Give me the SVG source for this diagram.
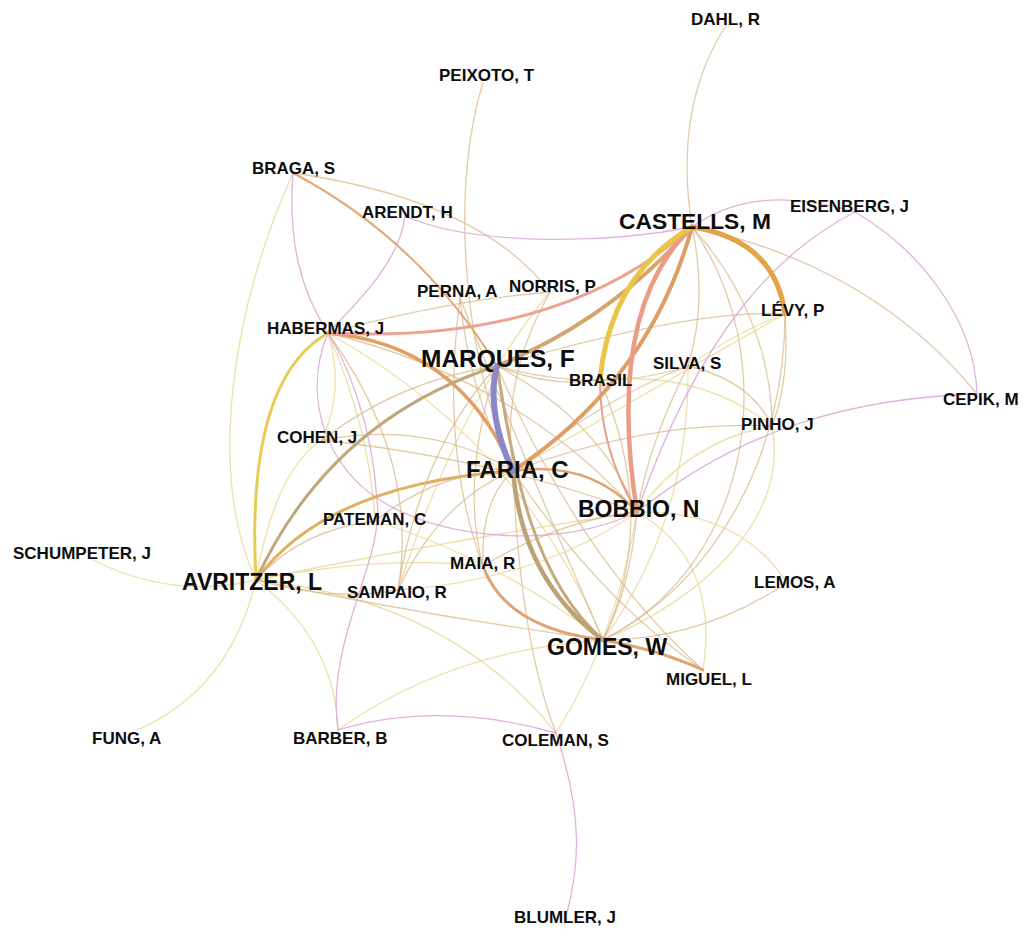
<svg xmlns="http://www.w3.org/2000/svg" width="1025" height="929" viewBox="0 0 1025 929">
<style>
.bg{fill:#ffffff}
path{fill:none;stroke-linecap:round}
.y{stroke:#e8d68e;stroke-width:1.3;stroke-opacity:.75}
.t{stroke:#d8b98c;stroke-width:1.3;stroke-opacity:.75}
.p{stroke:#dba5d5;stroke-width:1.3;stroke-opacity:.85}
.o{stroke:#e4a877;stroke-width:2}
text{font-family:"Liberation Sans",Arial,Helvetica,sans-serif;font-weight:bold;fill:#0d0d0d;font-size:17px}
.big{font-size:23px}
</style>
<rect class="bg" x="0" y="0" width="1025" height="929"/>
<g id="connectors">
<g id="thin-yellow">
<path class="y" d="M93,560 Q173,600 256,580"/>
<path class="y" d="M137,730 Q230,690 256,580"/>
<path class="y" d="M338,730 Q335,640 256,580"/>
<path class="y" d="M293,173 C235,300 205,470 256,580"/>
<path class="y" d="M338,730 Q450,650 603,640"/>
<path class="y" d="M556,733 Q615,640 637,512"/>
<path class="y" d="M256,580 Q450,600 556,733"/>
<path class="y" d="M637,512 Q740,510 787,583"/>
<path class="y" d="M785,314 C720,350 600,420 513,471"/>
<path class="y" d="M785,314 Q740,330 688,366"/>
<path class="y" d="M256,580 Q275,470 322,440"/>
<path class="y" d="M328,333 Q345,390 322,440"/>
<path class="y" d="M328,333 Q370,430 375,521"/>
<path class="y" d="M256,580 Q380,555 483,566"/>
<path class="y" d="M256,580 Q450,540 637,512"/>
<path class="y" d="M375,521 Q500,560 603,640"/>
<path class="y" d="M398,590 Q540,580 637,512"/>
<path class="y" d="M772,426 Q690,440 637,512"/>
<path class="y" d="M688,366 Q690,520 603,640"/>
<path class="y" d="M550,292 Q460,400 398,590"/>
<path class="y" d="M600,380 Q700,370 772,426"/>
<path class="y" d="M328,333 Q520,440 603,640"/>
<path class="y" d="M703,670 Q720,560 637,512"/>
<path class="y" d="M772,426 C790,520 700,600 603,640"/>
</g>
<g id="thin-tan">
<path class="t" d="M727,24 C690,80 680,150 692,227"/>
<path class="t" d="M483,83 C455,170 455,330 513,471"/>
<path class="t" d="M787,583 Q700,640 603,640"/>
<path class="t" d="M785,314 C785,450 720,580 603,640"/>
<path class="t" d="M692,227 C780,350 760,560 603,640"/>
<path class="t" d="M692,227 C740,280 772,350 772,426"/>
<path class="t" d="M692,227 Q708,300 688,366"/>
<path class="t" d="M688,366 Q750,380 772,426"/>
<path class="t" d="M497,366 Q600,395 688,366"/>
<path class="t" d="M772,426 Q650,420 513,471"/>
<path class="t" d="M497,366 Q600,420 637,512"/>
<path class="t" d="M513,471 Q520,640 556,733"/>
<path class="t" d="M328,333 Q520,380 637,512"/>
<path class="t" d="M328,333 Q420,460 398,590"/>
<path class="t" d="M322,440 Q430,420 513,471"/>
<path class="t" d="M322,440 Q500,460 637,512"/>
<path class="t" d="M460,298 Q470,400 513,471"/>
<path class="t" d="M460,298 Q520,450 603,640"/>
<path class="t" d="M550,292 Q500,380 513,471"/>
<path class="t" d="M460,298 Q440,450 483,566"/>
<path class="t" d="M375,521 Q440,470 513,471"/>
<path class="t" d="M483,566 Q480,500 513,471"/>
<path class="t" d="M483,566 Q560,520 637,512"/>
<path class="t" d="M398,590 Q440,500 513,471"/>
<path class="t" d="M398,590 Q420,450 497,366"/>
<path class="t" d="M497,366 Q460,480 483,566"/>
<path class="t" d="M600,380 Q660,520 603,640"/>
<path class="t" d="M688,366 Q600,400 513,471"/>
<path class="t" d="M637,512 Q630,590 603,640"/>
<path class="t" d="M513,471 Q600,600 703,670"/>
<path class="t" d="M497,366 Q580,560 703,670"/>
<path class="t" d="M497,366 Q550,388 600,380"/>
<path class="t" d="M322,440 Q400,380 497,366"/>
<path class="t" d="M785,314 Q790,380 772,426"/>
<path class="t" d="M688,366 Q650,440 637,512"/>
<path class="t" d="M256,580 Q330,602 398,590"/>
<path class="t" d="M256,580 Q420,615 603,640"/>
<path class="t" d="M256,580 Q300,530 375,521"/>
<path class="t" d="M293,173 Q480,200 550,292"/>
<path class="t" d="M328,333 Q450,300 550,292"/>
<path class="t" d="M785,314 C720,310 620,330 497,366"/>
<path class="t" d="M692,227 C800,250 900,300 977,394"/>
</g>
<g id="thin-pink">
<path class="p" d="M338,730 C325,640 385,560 377,500 C372,420 345,360 328,333"/>
<path class="p" d="M328,333 C300,400 330,470 380,500 C440,540 560,550 637,512"/>
<path class="p" d="M338,730 Q440,700 556,733"/>
<path class="p" d="M556,733 C585,820 578,870 567,913"/>
<path class="p" d="M293,173 C288,240 300,290 328,333"/>
<path class="p" d="M405,216 C400,260 360,300 328,333"/>
<path class="p" d="M405,216 C470,245 600,245 692,227"/>
<path class="p" d="M692,227 C730,200 780,190 855,212"/>
<path class="p" d="M855,212 C920,250 975,320 977,394"/>
<path class="p" d="M855,212 C780,250 700,330 637,512"/>
<path class="p" d="M977,394 C850,398 740,430 637,512"/>
</g>
<g id="medium">
<path class="o" d="M293,173 Q420,240 497,366"/>
<path class="o" d="M600,380 Q600,450 637,512" style="stroke:#e6a08e"/>
</g>
<g id="thick">
<path d="M328,333 Q460,345 513,471" style="stroke:#e0a064;stroke-width:3.5"/>
<path d="M256,580 Q245,380 328,333" style="stroke:#e7cb55;stroke-width:3"/>
<path d="M256,580 Q330,420 497,366" style="stroke:#bfa97a;stroke-width:3"/>
<path d="M256,580 C300,520 380,480 513,471" style="stroke:#dfb062;stroke-width:3"/>
<path d="M497,366 C515,480 535,580 603,640" style="stroke:#c4aa7c;stroke-width:3"/>
<path d="M513,471 Q522,580 603,640" style="stroke:#bca274;stroke-width:4.5"/>
<path d="M483,566 Q505,628 603,640" style="stroke:#e2a272;stroke-width:3"/>
<path d="M513,471 Q590,460 637,512" style="stroke:#e2a46c;stroke-width:2.5"/>
<path d="M603,640 Q660,650 703,670" style="stroke:#dfa56f;stroke-width:3"/>
<path d="M692,227 Q560,345 328,333" style="stroke:#eba392;stroke-width:3"/>
<path d="M692,227 Q610,320 497,366" style="stroke:#d8a46e;stroke-width:4"/>
<path d="M692,227 Q650,380 513,471" style="stroke:#dca067;stroke-width:4"/>
<path d="M692,227 Q605,310 637,512" style="stroke:#eb9c85;stroke-width:4.5"/>
<path d="M692,227 Q610,275 600,380" style="stroke:#e9c64a;stroke-width:5"/>
<path d="M692,227 Q775,240 785,314" style="stroke:#e3a348;stroke-width:5"/>
<path d="M497,366 C488,400 498,440 513,471" style="stroke:#8c88c8;stroke-width:6"/>
</g>
</g>
<g id="node-dahl"><text x="691" y="25">DAHL, R</text></g>
<g id="node-peixoto"><text x="439" y="81">PEIXOTO, T</text></g>
<g id="node-braga"><text x="252" y="174">BRAGA, S</text></g>
<g id="node-arendt"><text x="362" y="218">ARENDT, H</text></g>
<g id="node-castells"><text class="big" x="619" y="229" style="font-size:22.8px">CASTELLS, M</text></g>
<g id="node-eisenberg"><text x="790" y="212">EISENBERG, J</text></g>
<g id="node-norris"><text x="509" y="292">NORRIS, P</text></g>
<g id="node-perna"><text x="417" y="297">PERNA, A</text></g>
<g id="node-levy"><text x="761" y="316">LÉVY, P</text></g>
<g id="node-habermas"><text x="267" y="334">HABERMAS, J</text></g>
<g id="node-marques"><text class="big" x="421" y="367" style="font-size:24.5px">MARQUES, F</text></g>
<g id="node-silva"><text x="653" y="369">SILVA, S</text></g>
<g id="node-brasil"><text x="569" y="386">BRASIL</text></g>
<g id="node-cepik"><text x="943" y="405">CEPIK, M</text></g>
<g id="node-pinho"><text x="741" y="430">PINHO, J</text></g>
<g id="node-cohen"><text x="277" y="443">COHEN, J</text></g>
<g id="node-faria"><text class="big" x="466" y="478" style="font-size:24px">FARIA, C</text></g>
<g id="node-bobbio"><text class="big" x="578" y="517">BOBBIO, N</text></g>
<g id="node-pateman"><text x="323" y="525">PATEMAN, C</text></g>
<g id="node-schumpeter"><text x="13" y="559">SCHUMPETER, J</text></g>
<g id="node-maia"><text x="450" y="569">MAIA, R</text></g>
<g id="node-avritzer"><text class="big" x="182" y="590">AVRITZER, L</text></g>
<g id="node-lemos"><text x="754" y="588">LEMOS, A</text></g>
<g id="node-sampaio"><text x="347" y="598">SAMPAIO, R</text></g>
<g id="node-gomes"><text class="big" x="547" y="655">GOMES, W</text></g>
<g id="node-miguel"><text x="666" y="685">MIGUEL, L</text></g>
<g id="node-fung"><text x="92" y="744">FUNG, A</text></g>
<g id="node-barber"><text x="293" y="744">BARBER, B</text></g>
<g id="node-coleman"><text x="502" y="746">COLEMAN, S</text></g>
<g id="node-blumler"><text x="514" y="923">BLUMLER, J</text></g>
</svg>
